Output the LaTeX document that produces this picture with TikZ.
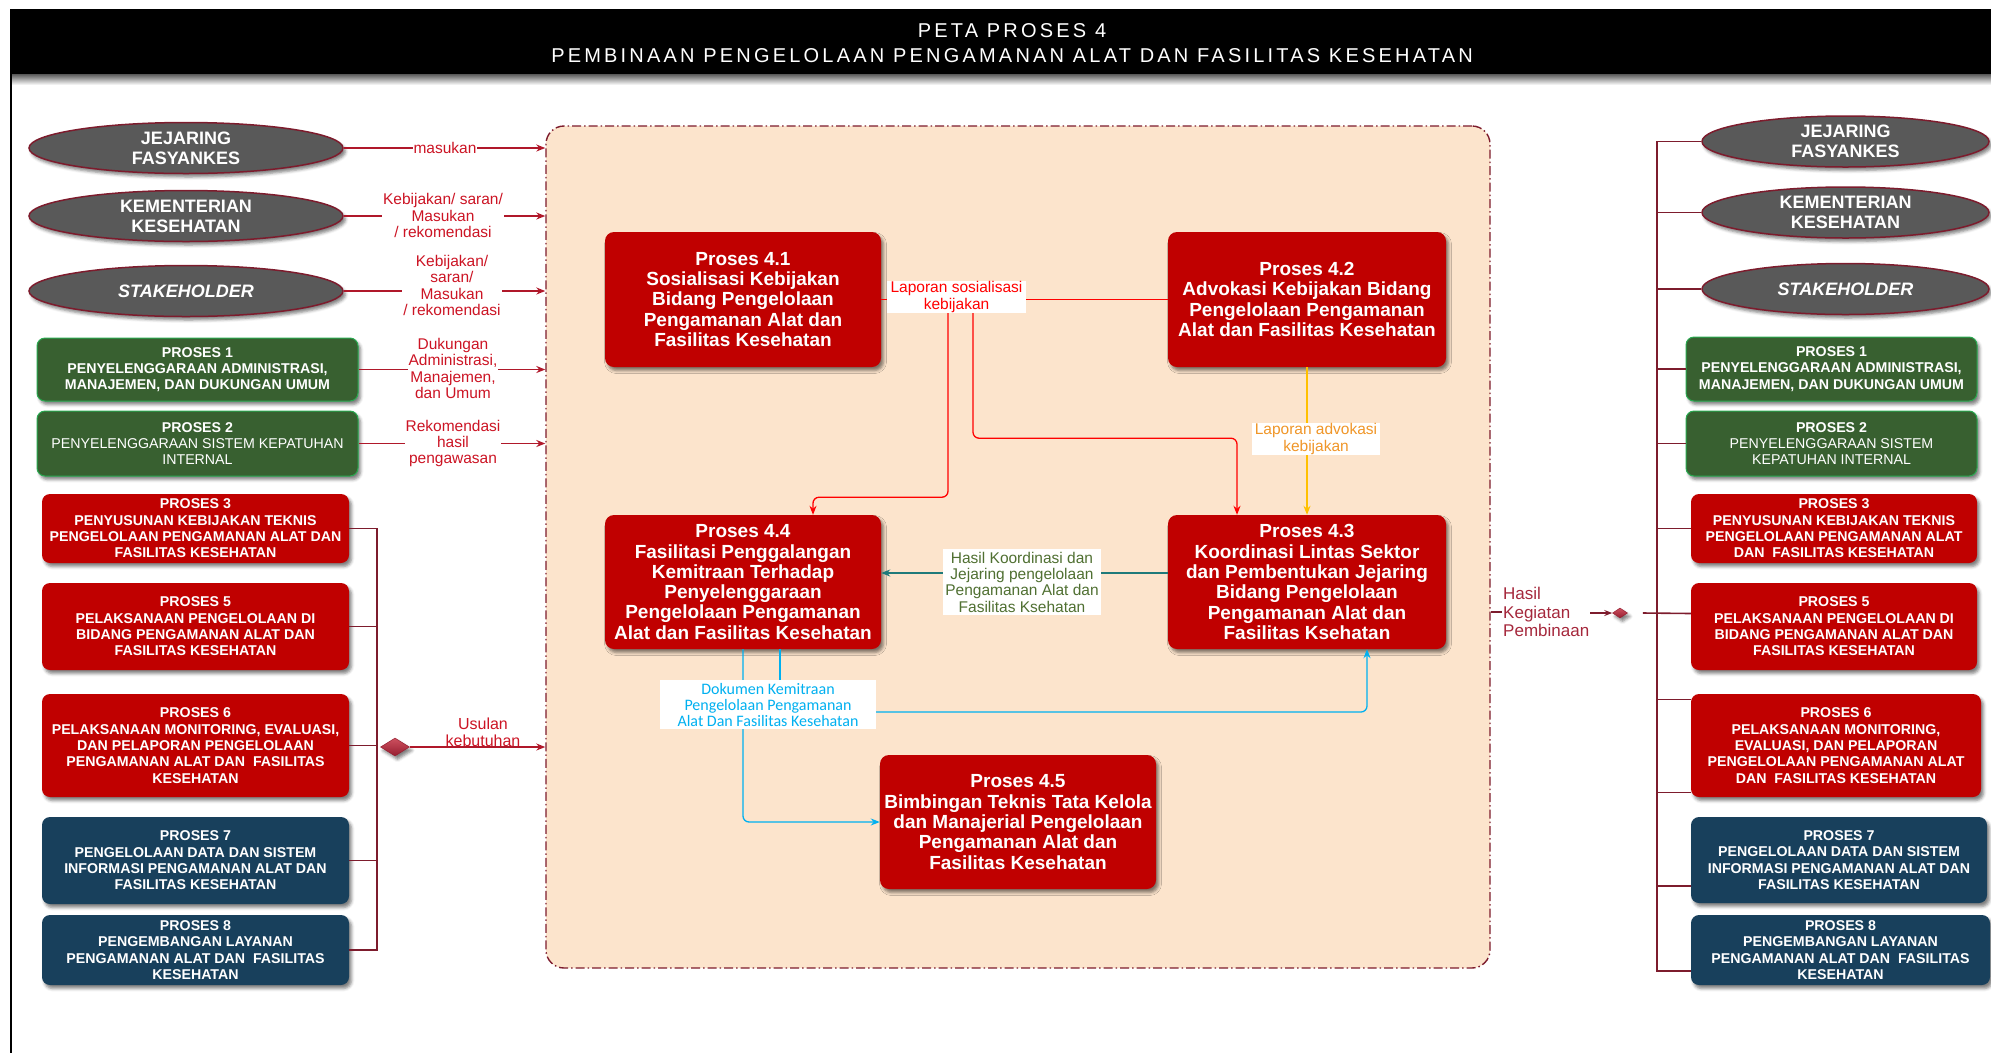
\documentclass[tikz,border=0pt]{standalone}
\usepackage{fontspec}
\setmainfont{Liberation Sans}
\newfontfamily\carlito{Carlito}
\usetikzlibrary{shapes.geometric,arrows.meta,shadows.blur,calc}

\definecolor{procred}{RGB}{192,0,0}
\definecolor{boxgreen}{RGB}{56,96,48}
\definecolor{boxgreenedge}{RGB}{40,170,80}
\definecolor{boxblue}{RGB}{24,64,92}
\definecolor{ellgray}{RGB}{89,89,89}
\definecolor{maroonline}{RGB}{125,28,45}
\definecolor{inred}{RGB}{176,24,42}
\definecolor{lblred}{RGB}{204,20,36}
\definecolor{peach}{RGB}{252,228,204}
\definecolor{brightred}{RGB}{255,0,0}
\definecolor{amberline}{RGB}{255,192,0}
\definecolor{ambertext}{RGB}{240,150,40}
\definecolor{linkteal}{RGB}{31,122,122}
\definecolor{hasilgreen}{RGB}{80,112,50}
\definecolor{skyblue}{RGB}{0,176,240}
\definecolor{rosetext}{RGB}{165,40,60}
\definecolor{diamtop}{RGB}{205,80,95}
\definecolor{diambot}{RGB}{150,30,48}

\tikzset{
  softshadow/.style={blur shadow={shadow xshift=2.5pt, shadow yshift=-3.5pt,
      shadow blur radius=3pt, shadow opacity=50}},
  coreproc/.style={fill=procred, rounded corners=9pt, text=white, align=center,
      inner sep=0pt, minimum width=276pt, minimum height=135pt,
      font=\bfseries\fontsize{19}{20.3}\selectfont, softshadow},
  sidebox/.style={rounded corners=8pt, text=white, align=center, inner sep=0pt,
      font=\bfseries\fontsize{14.2}{16.3}\selectfont, softshadow},
  redbox/.style={sidebox, fill=procred},
  greenbox/.style={sidebox, fill=boxgreen, draw=boxgreenedge, line width=1pt},
  bluebox/.style={sidebox, fill=boxblue},
  ell/.style={ellipse, fill=ellgray, draw=maroonline, line width=1.5pt,
      inner sep=0pt, minimum height=51pt, softshadow},
  elltext/.style={text=white, align=center, inner sep=0pt,
      font=\bfseries\fontsize{18}{20}\selectfont},
  feed/.style={draw=inred, line width=1.4pt, -{Stealth[length=9pt,width=7pt]}},
  feedlbl/.style={fill=white, text=lblred, align=center, inner sep=1pt,
      font=\fontsize{15.5}{16.3}\selectfont},
  bracket/.style={draw=maroonline, line width=1.6pt},
  decision/.style={diamond, inner sep=0pt, top color=diamtop, bottom color=diambot,
      draw=diambot, line width=0.5pt, softshadow},
  flowlbl/.style={fill=white, align=center, inner sep=0pt,
      font=\fontsize{15.5}{16.3}\selectfont},
  tip/.style={-{Stealth[length=9pt,width=7pt]}},
  titletext/.style={text=white, inner sep=0pt,
      font=\fontsize{20}{22}\selectfont\addfontfeatures{LetterSpace=16}},
}

\begin{document}
\begin{tikzpicture}[x=1pt,y=-1pt]
\useasboundingbox (0,0) rectangle (1991,1053);

% header band
\shade[top color=black!65, bottom color=white] (10,74) rectangle (1991,85);
\fill[black] (10,9) rectangle (1991,74);
\node[titletext] (title1) at (1012,31) {PETA PROSES 4};
\node[titletext] (title2) at (1012,55.5) {PEMBINAAN PENGELOLAAN PENGAMANAN ALAT DAN FASILITAS KESEHATAN};
\draw[line width=2.5pt] (11,74) -- (11,1053);

% central process area
\node[draw=maroonline, fill=peach, line width=1.4pt,
      dash pattern=on 9pt off 3pt on 1.5pt off 3pt, rounded corners=18pt,
      minimum width=944pt, minimum height=842pt, inner sep=0pt] (frame) at (1018,547) {};

% ---------- left inputs ----------
\node[ell, minimum width=314pt, label={[elltext]center:{JEJARING\\FASYANKES}}] (L1) at (186,148) {};
\node[ell, minimum width=314pt, label={[elltext]center:{KEMENTERIAN\\KESEHATAN}}] (L2) at (186,216) {};
\node[ell, minimum width=314pt, label={[elltext]center:{\itshape STAKEHOLDER}}] (L3) at (186,291) {};

\node[greenbox, minimum width=321pt, minimum height=63pt] (lP1) at (197.5,369.5)
  {PROSES 1\\PENYELENGGARAAN ADMINISTRASI,\\MANAJEMEN, DAN DUKUNGAN UMUM};
\node[greenbox, minimum width=321pt, minimum height=65pt] (lP2) at (197.5,443.5)
  {PROSES 2\\\mdseries PENYELENGGARAAN SISTEM KEPATUHAN\\\mdseries INTERNAL};

\node[redbox, minimum width=307pt, minimum height=69pt] (lP3) at (195.5,528.5)
  {PROSES 3\\PENYUSUNAN KEBIJAKAN TEKNIS\\PENGELOLAAN PENGAMANAN ALAT DAN\\FASILITAS KESEHATAN};
\node[redbox, minimum width=307pt, minimum height=87pt] (lP5) at (195.5,626.5)
  {PROSES 5\\PELAKSANAAN PENGELOLAAN DI\\BIDANG PENGAMANAN ALAT DAN\\FASILITAS KESEHATAN};
\node[redbox, minimum width=307pt, minimum height=103pt] (lP6) at (195.5,745.5)
  {PROSES 6\\PELAKSANAAN MONITORING, EVALUASI,\\DAN PELAPORAN PENGELOLAAN\\PENGAMANAN ALAT DAN \ FASILITAS\\KESEHATAN};
\node[bluebox, minimum width=307pt, minimum height=87pt] (lP7) at (195.5,860.5)
  {PROSES 7\\PENGELOLAAN DATA DAN SISTEM\\INFORMASI PENGAMANAN ALAT DAN\\FASILITAS KESEHATAN};
\node[bluebox, minimum width=307pt, minimum height=70pt] (lP8) at (195.5,950)
  {PROSES 8\\PENGEMBANGAN LAYANAN\\PENGAMANAN ALAT DAN \ FASILITAS\\KESEHATAN};

% inputs into the process area
\draw[feed] (L1.east) -- (L1.east -| frame.west);
\draw[feed] (L2.east) -- (L2.east -| frame.west);
\draw[feed] (L3.east) -- (L3.east -| frame.west);
\draw[feed] (lP1.east) -- (lP1.east -| frame.west);
\draw[feed] (lP2.east) -- (lP2.east -| frame.west);
\node[feedlbl] (lab1) at (445,148) {masukan};
\node[feedlbl] (lab2) at (443,215.5) {Kebijakan/ saran/\\Masukan\\/ rekomendasi};
\node[feedlbl] (lab3) at (452,285.5) {Kebijakan/\\saran/\\Masukan\\/ rekomendasi};
\node[feedlbl] (lab4) at (453,368.5) {Dukungan\\Administrasi,\\Manajemen,\\dan Umum};
\node[feedlbl] (lab5) at (453,443.5) {Rekomendasi\\hasil\\pengawasan};

% bracket of processes 3-8 merging into one request
\coordinate (lbx) at (377,0);
\draw[bracket] (lP3.east) -| (lbx |- lP8.east) -- (lP8.east);
\draw[bracket] (lP5.east) -- (lP5.east -| lbx);
\draw[bracket] (lP6.east) -- (lP6.east -| lbx);
\draw[bracket] (lP7.east) -- (lP7.east -| lbx);
\node[decision, minimum width=29pt, minimum height=18pt] (ldia) at (395,747) {};
\draw[feed] (ldia.east) -- (ldia.east -| frame.west);
\node[feedlbl, inner sep=0pt, font=\fontsize{16}{16.7}\selectfont] (lab6) at (483,732) {Usulan\\kebutuhan};

% ---------- core processes ----------
\node[coreproc] (p41) at (743,299.5)
  {Proses 4.1\\Sosialisasi Kebijakan\\Bidang Pengelolaan\\Pengamanan Alat dan\\Fasilitas Kesehatan};
\node[coreproc, minimum width=278pt] (p42) at (1307,299.5)
  {Proses 4.2\\Advokasi Kebijakan Bidang\\Pengelolaan Pengamanan\\Alat dan Fasilitas Kesehatan};
\node[coreproc, minimum height=134pt] (p44) at (743,582)
  {Proses 4.4\\Fasilitasi Penggalangan\\Kemitraan Terhadap\\Penyelenggaraan\\Pengelolaan Pengamanan\\Alat dan Fasilitas Kesehatan};
\node[coreproc, minimum width=278pt, minimum height=134pt] (p43) at (1307,582)
  {Proses 4.3\\Koordinasi Lintas Sektor\\dan Pembentukan Jejaring\\Bidang Pengelolaan\\Pengamanan Alat dan\\Fasilitas Ksehatan};
\node[coreproc, minimum height=134pt] (p45) at (1018,822)
  {Proses 4.5\\Bimbingan Teknis Tata Kelola\\dan Manajerial Pengelolaan\\Pengamanan Alat dan\\Fasilitas Kesehatan};

% socialisation report
\draw[brightred, line width=1.3pt] (p41.east) -- (p42.west);
\node[flowlbl, text=brightred, minimum width=139pt, minimum height=32pt] (lapsos) at (956.5,297)
  {Laporan sosialisasi\\kebijakan};
\draw[brightred, line width=1.3pt, tip, rounded corners=6pt]
  ([xshift=-8.5pt]lapsos.south) -- ++(0,184) -| ([xshift=70pt]p44.north);
\draw[brightred, line width=1.3pt, tip, rounded corners=6pt]
  ([xshift=16.5pt]lapsos.south) -- ++(0,125) -| ([xshift=-70pt]p43.north);

% advocacy report
\draw[amberline, line width=1.3pt, tip] (p42.south) -- (p43.north);
\node[flowlbl, text=ambertext, minimum width=128pt, minimum height=32pt] (lapadv) at (1316,439)
  {Laporan advokasi\\kebijakan};

% coordination result
\draw[linkteal, line width=1.3pt, tip] ([yshift=9pt]p43.west) -- ([yshift=9pt]p44.east);
\node[flowlbl, text=hasilgreen, minimum width=158pt, minimum height=66pt] (hasilk) at (1022,582)
  {Hasil Koordinasi dan\\Jejaring pengelolaan\\Pengamanan Alat dan\\Fasilitas Ksehatan};

% partnership document
\draw[skyblue, line width=1.3pt, tip, rounded corners=6pt] (p44.south) |- (p45.west);
\draw[skyblue, line width=1.3pt] ([xshift=37pt]p44.south) -- ++(0,31);
\node[flowlbl, text=skyblue, minimum width=216pt, minimum height=49pt,
      font=\carlito\fontsize{16}{16}\selectfont] (dokk) at (768,704.5)
  {Dokumen Kemitraan\\Pengelolaan Pengamanan\\Alat Dan Fasilitas Kesehatan};
\draw[skyblue, line width=1.3pt, tip, rounded corners=6pt]
  ([yshift=-7.5pt]dokk.east) -| ([xshift=60pt]p43.south);

% ---------- right outputs ----------
\node[ell, minimum width=287pt, label={[elltext]center:{JEJARING\\FASYANKES}}] (R1) at (1845.5,141.5) {};
\node[ell, minimum width=287pt, label={[elltext]center:{KEMENTERIAN\\KESEHATAN}}] (R2) at (1845.5,212.5) {};
\node[ell, minimum width=287pt, label={[elltext]center:{\itshape STAKEHOLDER}}] (R3) at (1845.5,289) {};

\node[greenbox, minimum width=291pt, minimum height=64pt] (rP1) at (1831.5,369)
  {PROSES 1\\PENYELENGGARAAN ADMINISTRASI,\\MANAJEMEN, DAN DUKUNGAN UMUM};
\node[greenbox, minimum width=291pt, minimum height=65pt] (rP2) at (1831.5,443.5)
  {PROSES 2\\\mdseries PENYELENGGARAAN SISTEM\\\mdseries KEPATUHAN INTERNAL};
\node[redbox, minimum width=286pt, minimum height=69pt] (rP3) at (1834,528.5)
  {PROSES 3\\PENYUSUNAN KEBIJAKAN TEKNIS\\PENGELOLAAN PENGAMANAN ALAT\\DAN \ FASILITAS KESEHATAN};
\node[redbox, minimum width=286pt, minimum height=87pt] (rP5) at (1834,626.5)
  {PROSES 5\\PELAKSANAAN PENGELOLAAN DI\\BIDANG PENGAMANAN ALAT DAN\\FASILITAS KESEHATAN};
\node[redbox, minimum width=290pt, minimum height=103pt] (rP6) at (1836,745.5)
  {PROSES 6\\PELAKSANAAN MONITORING,\\EVALUASI, DAN PELAPORAN\\PENGELOLAAN PENGAMANAN ALAT\\DAN \ FASILITAS KESEHATAN};
\node[bluebox, minimum width=296pt, minimum height=86pt] (rP7) at (1839,860)
  {PROSES 7\\PENGELOLAAN DATA DAN SISTEM\\INFORMASI PENGAMANAN ALAT DAN\\FASILITAS KESEHATAN};
\node[bluebox, minimum width=299pt, minimum height=70pt] (rP8) at (1840.5,950)
  {PROSES 8\\PENGEMBANGAN LAYANAN\\PENGAMANAN ALAT DAN \ FASILITAS\\KESEHATAN};

% distribution bracket on the right
\coordinate (rbx) at (1657,0);
\coordinate (rB5) at ([yshift=13pt]rP5.west);
\coordinate (rB6a) at ([yshift=46pt]rP6.west);
\coordinate (rB6b) at ([yshift=-47pt]rP6.west);
\coordinate (rB7) at ([yshift=-26pt]rP7.west);
\coordinate (rB8) at ([yshift=-21pt]rP8.west);
\draw[bracket] (R1.west) -| (rbx |- rB8) -- (rB8);
\draw[bracket] (R2.west) -- (R2.west -| rbx);
\draw[bracket] (R3.west) -- (R3.west -| rbx);
\draw[bracket] (rP1.west) -- (rP1.west -| rbx);
\draw[bracket] (rP2.west) -- (rP2.west -| rbx);
\draw[bracket] (rP3.west) -- (rP3.west -| rbx);
\draw[bracket] (rB6a) -- (rB6a -| rbx);
\draw[bracket] (rB6b) -- (rB6b -| rbx);
\draw[bracket] (rB7) -- (rB7 -| rbx);

% outgoing result
\node[anchor=west, text=rosetext, align=left, inner sep=1pt,
      font=\fontsize{17}{18.7}\selectfont] (hasil) at (1502,612) {Hasil\\Kegiatan\\Pembinaan};
\draw[bracket, line width=1.2pt] (hasil.west -| frame.east) -- (hasil.west);
\node[decision, minimum width=15pt, minimum height=10pt] (rdia) at (1620,613) {};
\draw[bracket, line width=1.2pt, -{Stealth[length=8pt,width=6pt]}] (hasil.east |- rdia.west) -- (rdia.west);
\draw[bracket] ([xshift=15pt]rdia.east) -- (rB5);

\end{tikzpicture}
\end{document}
